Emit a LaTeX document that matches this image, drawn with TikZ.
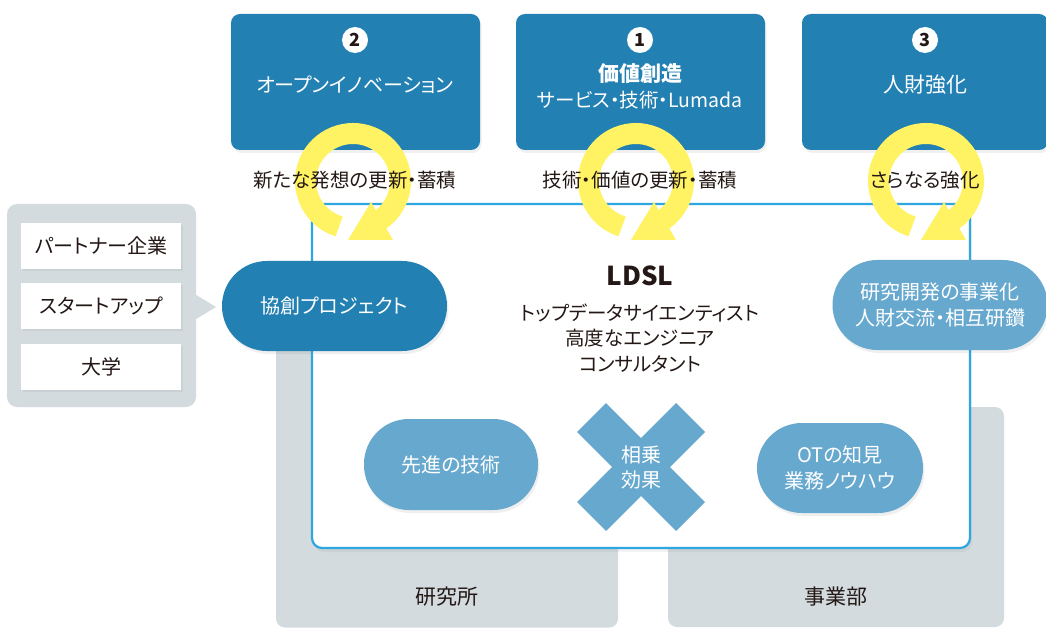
\documentclass[tikz,border=0pt]{standalone}
\usepackage{fontspec}
\setmainfont{Noto Sans CJK JP}[RawFeature=+palt]
\usetikzlibrary{calc,shadows}
\definecolor{dblue}{HTML}{2380B3}
\definecolor{lblue}{HTML}{67A8CE}
\definecolor{bord}{HTML}{2EA7E0}
\definecolor{gpan}{HTML}{D3DBDF}
\definecolor{ylw}{HTML}{FFF263}
\definecolor{ink}{HTML}{231815}
\tikzset{
  sh/.style={drop shadow={opacity=0.12, shadow xshift=1.5pt, shadow yshift=-3pt}},
  topbox/.style={fill=dblue, rounded corners=9pt, inner sep=0pt, sh},
  numc/.style={circle, fill=white, minimum size=26pt, inner sep=0pt, text=ink, font=\fontsize{18}{18}\selectfont\bfseries},
  ttl/.style={text=white, align=center, inner sep=0pt, font=\fontsize{20}{27}\selectfont},
  lbl/.style={text=ink, inner sep=0pt, font=\fontsize{19.5}{22}\selectfont},
  panel/.style={fill=gpan, rounded corners=9pt, inner sep=0pt},
  wbox/.style={fill=white, inner sep=0pt, minimum width=160pt, minimum height=46pt, text=ink, font=\fontsize{20}{22}\selectfont, drop shadow={opacity=0.1, shadow xshift=1.5pt, shadow yshift=-2pt}},
  dpill/.style={fill=dblue, rounded corners=44.9pt, inner sep=0pt, minimum height=90pt, text=white, font=\fontsize{20}{27}\selectfont, align=center, sh},
  lpill/.style={fill=lblue, rounded corners=44.9pt, inner sep=0pt, minimum height=90pt, text=white, font=\fontsize{20}{26}\selectfont, align=center, sh},
  xbar/.style={fill=lblue, inner sep=0pt, minimum width=140pt, minimum height=41pt},
  body/.style={text=ink, align=center, inner sep=0pt, font=\fontsize{19.5}{25.5}\selectfont},
}
\begin{document}
\begin{tikzpicture}[x=1pt,y=-1pt]
\useasboundingbox (0,0) rectangle (1046,628);
% gray base panels
\node[panel, minimum width=342pt, minimum height=327pt] (lab) at (447,464) {};
\node[panel, minimum width=336pt, minimum height=220pt] (biz) at (836,517) {};
\node[lbl, font=\fontsize{21}{22}\selectfont] (labt) at (447,597) {研究所};
\node[lbl, font=\fontsize{21}{22}\selectfont] (bizt) at (836,597) {事業部};
% main LDSL box
\draw[bord, line width=2.2pt, fill=white, rounded corners=10pt, drop shadow={opacity=0.1, shadow xshift=2pt, shadow yshift=-4pt}] (312,204) rectangle (970,548);
% left partner panel
\node[panel, minimum width=189pt, minimum height=203pt, rounded corners=10pt] (part) at (101.5,305.5) {};
\node[wbox] (p1) at (101,246) {パートナー企業};
\node[wbox] (p2) at (101,306) {スタートアップ};
\node[wbox] (p3) at (101,367) {大学};
\fill[gpan] (part.east |- 0,295) -- (216,307) -- (part.east |- 0,319) -- cycle;
% top boxes
\node[topbox, minimum width=249pt, minimum height=136pt] (b2) at (355.5,82) {};
\node[topbox, minimum width=249pt, minimum height=136pt] (b1) at (640.5,82) {};
\node[topbox, minimum width=246pt, minimum height=136pt] (b3) at (925,82) {};
\node[numc] (n2) at (355,40) {2};
\node[numc] (n1) at (640,40) {1};
\node[numc] (n3) at (925,40) {3};
\node[ttl] (t2) at (355,85) {オープンイノベーション};
\node[ttl] (t1) at (640,86) {{\fontsize{21}{27}\selectfont\bfseries 価値創造}\\[-1pt]{\fontsize{19.5}{22}\selectfont サービス・技術・Lumada}};
\node[ttl, font=\fontsize{21}{27}\selectfont] (t3) at (925,85) {人財強化};
% pills on the box border
\node[dpill, minimum width=225pt] (kyo) at (334.5,306) {協創プロジェクト};
\node[lpill, minimum width=215pt] (rd) at (940,305) {研究開発の事業化\\人財交流・相互研鑽};
% LDSL text
\node[text=ink, inner sep=0pt, font=\fontsize{26}{28}\selectfont\bfseries] (ldsl) at (640,276) {LDSL};
\node[body] (roles) at (640,338) {トップデータサイエンティスト\\高度なエンジニア\\コンサルタント};
% inner pills and cross
\node[lpill, minimum width=174pt, minimum height=91pt] (adv) at (451,464.5) {先進の技術};
\node[lpill, minimum width=166pt] (ot) at (840,468) {OTの知見\\業務ノウハウ};
\node[xbar, rotate=45] (xa) at (641,467) {};
\node[xbar, rotate=-45] (xb) at (641,467) {};
\node[text=white, align=center, inner sep=0pt, font=\fontsize{20}{25}\selectfont] (syn) at (641,467) {相乗\\効果};
% yellow cycle arrows
\coordinate (c2) at (353,181);
\coordinate (c1) at (636,181);
\coordinate (c3) at (926,181);
\foreach \c in {c1,c2,c3}{
  \fill[ylw] ($(\c)+(18,21)$) -- ($(\c)+(40,59)$) -- ($(\c)+(-5,59)$) -- cycle;
  \draw[ylw, line width=21pt] ($(\c)+(107:47.5)$) arc[start angle=107, end angle=420, radius=47.5];
}
% labels under top boxes
\node[lbl] (l2) at (355,180) {新たな発想の更新・蓄積};
\node[lbl] (l1) at (640,180) {技術・価値の更新・蓄積};
\node[lbl] (l3) at (925,180) {さらなる強化};
\end{tikzpicture}
\end{document}
